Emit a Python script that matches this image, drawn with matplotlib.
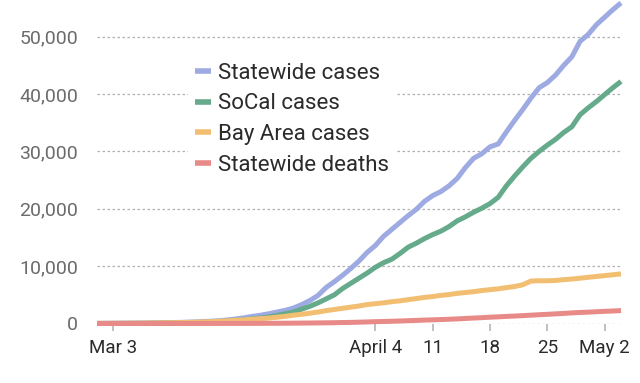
import matplotlib
matplotlib.use("Agg")
import matplotlib.pyplot as plt
import pandas as pd

plt.rcParams['font.family'] = ['Roboto', 'DejaVu Sans']

dates = pd.date_range("2020-03-01", "2020-05-04", freq="D")

statewide_cases = [30, 35, 45, 55, 60, 70, 80, 110, 130, 160, 190, 230, 280, 340, 410, 500,
                   620, 800, 1000, 1250, 1450, 1700, 2000, 2300, 2700, 3300, 4000, 4900, 6300, 7300,
                   8400, 9600, 10900, 12400, 13600, 15200, 16400, 17600, 18800, 19900, 21300, 22300,
                   23000, 24000, 25300, 27200, 28800, 29600, 30800, 31300, 33400, 35400, 37300, 39300,
                   41100, 42000, 43300, 45000, 46500, 49200, 50400, 52100, 53400, 54700, 55900]
socal_cases = [10, 12, 15, 20, 25, 30, 35, 50, 60, 80, 100, 130, 160, 200, 250, 320,
               420, 520, 650, 800, 950, 1150, 1400, 1700, 2000, 2500, 3000, 3600, 4300, 5000,
               6100, 7000, 7900, 8800, 9800, 10600, 11200, 12200, 13300, 14000, 14800, 15500,
               16100, 16900, 17900, 18600, 19400, 20100, 20900, 22000, 24000, 25700, 27300, 28800,
               30000, 31100, 32100, 33300, 34300, 36400, 37600, 38700, 39900, 41100, 42200]
bay_area_cases = [20, 25, 30, 40, 50, 60, 80, 100, 120, 140, 160, 190, 230, 280, 330, 400,
                  470, 560, 650, 750, 850, 950, 1100, 1250, 1450, 1600, 1800, 2000, 2250, 2450,
                  2650, 2850, 3050, 3300, 3450, 3600, 3800, 3950, 4150, 4350, 4550, 4700,
                  4900, 5050, 5250, 5400, 5550, 5750, 5900, 6050, 6250, 6450, 6750, 7400,
                  7450, 7450, 7500, 7650, 7750, 7900, 8050, 8200, 8350, 8500, 8650]
statewide_deaths = [0, 0, 1, 1, 1, 2, 3, 4, 4, 5, 6, 6, 6, 7, 8, 11,
                    14, 17, 19, 22, 25, 32, 40, 50, 60, 75, 85, 100, 120, 140,
                    170, 190, 230, 270, 320, 350, 390, 440, 490, 540, 600, 640,
                    690, 740, 800, 880, 950, 1020, 1100, 1160, 1240, 1300, 1370, 1450,
                    1530, 1600, 1680, 1760, 1850, 1920, 1980, 2050, 2120, 2180, 2250]

series_names = ["Statewide cases", "SoCal cases", "Bay Area cases", "Statewide deaths"]
series_colors = ["#9eaae2", "#65ab8b", "#f2bf72", "#e88a87"]
tick_dates = pd.to_datetime(["2020-03-03", "2020-04-04", "2020-04-11", "2020-04-18",
                             "2020-04-25", "2020-05-02"])
tick_labels = ["Mar 3", "April 4", "11", "18", "25", "May 2"]
y_ticks = [0, 10000, 20000, 30000, 40000, 50000]

fig = plt.figure(figsize=(6.4, 3.83), dpi=100)
ax = fig.add_axes([97 / 640, 1 - 323.5 / 383, 524 / 640, 321.2 / 383])

for vals, name, col in zip([statewide_cases, socal_cases, bay_area_cases, statewide_deaths],
                           series_names, series_colors):
    ax.plot(dates, vals, color=col, lw=3.6, label=name, solid_capstyle='butt',
            clip_on=False, zorder=3)

ax.set_xlim(dates[0], dates[-1])
ax.set_ylim(0, 56000)
ax.set_yticks(y_ticks)
ax.set_yticklabels([f"{v:,}" for v in y_ticks])
ax.set_xticks(tick_dates)
ax.set_xticklabels(tick_labels)

for s in ax.spines.values():
    s.set_visible(False)
ax.yaxis.grid(True, linestyle=(0, (2, 2)), color="#b0b0b0", lw=0.9)
ax.set_axisbelow(True)
ax.tick_params(axis='y', length=0, pad=13.5, labelsize=14, labelcolor="#6b6b6b")
ax.tick_params(axis='x', length=5, width=1.3, color="#bbbbbb", pad=6,
               labelsize=13.5, labelcolor="#2b2b2b")

leg = ax.legend(loc='upper left', bbox_to_anchor=(188 / 640, 1 - 56 / 383),
                bbox_transform=fig.transFigure, frameon=True, fontsize=16,
                handlelength=0.75, handletextpad=0.3, labelspacing=0.44,
                borderpad=0.3, borderaxespad=0)
leg.get_frame().set_facecolor("white")
leg.get_frame().set_edgecolor("none")
leg.get_frame().set_alpha(1)
for t in leg.get_texts():
    t.set_color("#2b2b2b")
for h in leg.get_lines():
    h.set_linewidth(4)

fig.savefig("out.png", dpi=100)
